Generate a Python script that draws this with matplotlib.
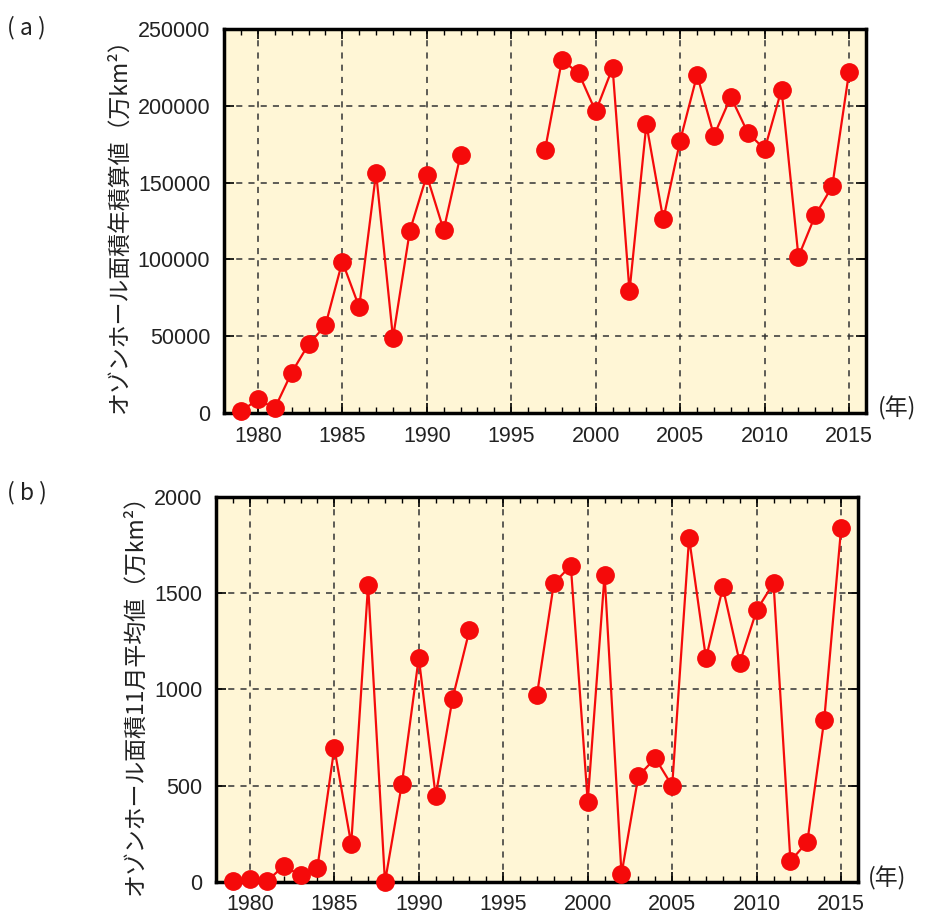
import numpy as np
import matplotlib
matplotlib.use("Agg")
import matplotlib.pyplot as plt
from matplotlib import font_manager
from matplotlib.ticker import MultipleLocator

# year ranges (gap 1993/1994-1996 has no data)
years_a1 = list(range(1979, 1993))
years_a2 = list(range(1997, 2016))
years_b1 = list(range(1979, 1994))
years_b2 = list(range(1997, 2016))

# (a) annual integrated ozone hole area
area_a1 = [1000, 9000, 3000, 26300, 44700, 57000, 98600, 69000, 156400, 49000,
           118700, 154700, 119100, 168100]
area_a2 = [171300, 229800, 221100, 196300, 224800, 79200, 188100, 126000, 177400,
           220100, 180600, 205800, 182500, 171700, 210600, 101800, 128800, 147600,
           222200]

# (b) November mean ozone hole area
area_b1 = [3, 17, 3, 83, 35, 75, 696, 197, 1544, 0, 510, 1165, 447, 953, 1308]
area_b2 = [974, 1553, 1643, 417, 1597, 40, 551, 643, 499, 1788, 1162, 1530, 1139,
           1412, 1553, 108, 209, 843, 1838]

xticks = [1980, 1985, 1990, 1995, 2000, 2005, 2010, 2015]

names = {f.name for f in font_manager.fontManager.ttflist}
num_font = "Liberation Sans Narrow" if "Liberation Sans Narrow" in names else "Liberation Sans"
jp_font = ["Noto Sans CJK JP", "DejaVu Sans"]

bg = "#fff6d6"
red = "#f50a0a"

fig = plt.figure(figsize=(9.3, 9.15), dpi=100)
ax_a = fig.add_axes([0.2409, 0.5486, 0.6903, 0.4197])
ax_b = fig.add_axes([0.2323, 0.0361, 0.6903, 0.4207])


def style(ax, ymax, ystep):
    ax.set_facecolor(bg)
    ax.set_xlim(1978, 2016)
    ax.set_ylim(0, ymax)
    ax.set_xticks(xticks)
    ax.xaxis.set_minor_locator(MultipleLocator(1))
    ax.yaxis.set_major_locator(MultipleLocator(ystep))
    ax.tick_params(which="both", direction="in", top=True, right=True,
                   labelsize=15.5)
    ax.tick_params(axis="x", pad=9)
    ax.tick_params(axis="y", pad=10)
    ax.tick_params(which="major", length=7, width=1.2)
    ax.tick_params(which="minor", length=4, width=1.0)
    for lab in ax.get_xticklabels() + ax.get_yticklabels():
        lab.set_family(num_font)
        lab.set_color("#222222")
    ax.grid(True, which="major", color="#333333", linestyle=(0, (4, 4)), linewidth=1.1)
    for s in ax.spines.values():
        s.set_linewidth(2.5)
    ax.set_axisbelow(True)


def draw(ax, xs, ys):
    ax.plot(xs, ys, color=red, linewidth=1.6, marker="o", markersize=12.5,
            markeredgecolor=red, markerfacecolor=red, clip_on=False, zorder=3)


style(ax_a, 250000, 50000)
draw(ax_a, years_a1, area_a1)
draw(ax_a, years_a2, area_a2)
ax_a.set_ylabel("オゾンホール面積年積算値（万km²）", family=jp_font, fontsize=16.5,
                labelpad=5, color="#222222")

style(ax_b, 2000, 500)
draw(ax_b, years_b1, area_b1)
draw(ax_b, years_b2, area_b2)
ax_b.set_ylabel("オゾンホール面積11月平均値（万km²）", family=jp_font, fontsize=16.5,
                labelpad=5, color="#222222")

fig.text(0.008, 0.970, "( a )", family=jp_font, fontsize=16.5, va="center", color="#222222")
fig.text(0.008, 0.462, "( b )", family=jp_font, fontsize=16.5, va="center", color="#222222")
fig.text(0.944, 0.554, "(年)", family=jp_font, fontsize=16.5, va="center", color="#222222")
fig.text(0.933, 0.040, "(年)", family=jp_font, fontsize=16.5, va="center", color="#222222")

fig.savefig("out.png", dpi=100, facecolor="white")
